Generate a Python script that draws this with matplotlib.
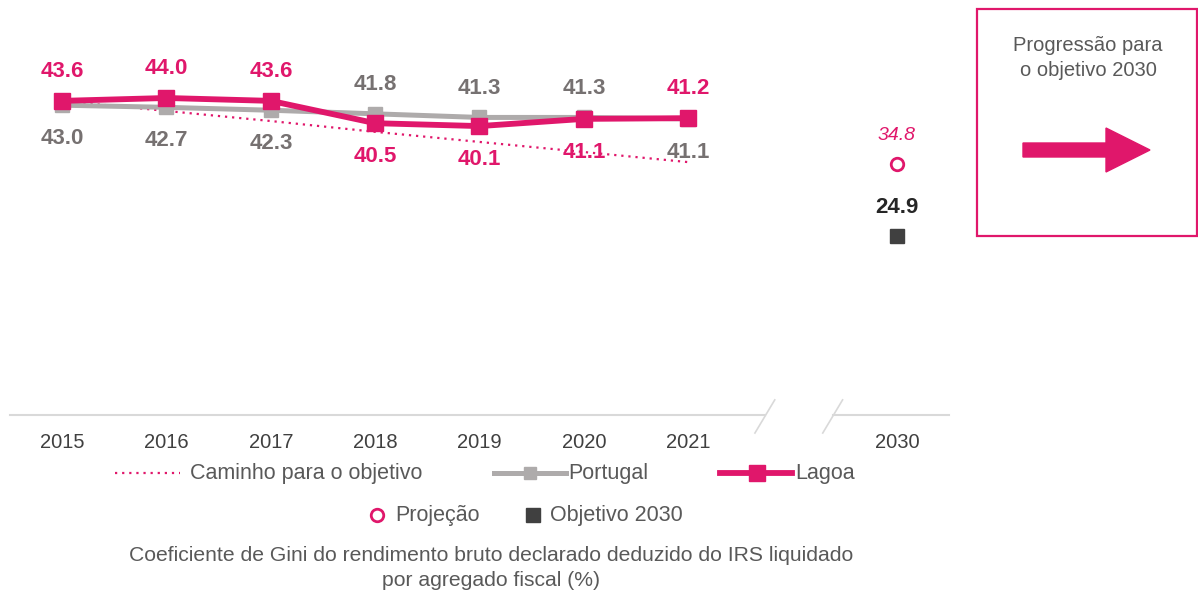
import numpy as np
import matplotlib
matplotlib.use("Agg")
from matplotlib import pyplot as plt
from matplotlib.lines import Line2D
from matplotlib.patches import Rectangle, Polygon

plt.rcParams["font.family"] = ["Liberation Sans", "DejaVu Sans"]

# data
years = ["2015", "2016", "2017", "2018", "2019", "2020", "2021"]
target_year = "2030"
lagoa = [43.6, 44.0, 43.6, 40.5, 40.1, 41.1, 41.2]
portugal = [43.0, 42.7, 42.3, 41.8, 41.3, 41.3, 41.1]
caminho = [43.6, 42.2, 40.8, 39.3, 37.9, 36.5, 35.1]
projecao = 34.8
objetivo = 24.9
lagoa_label_above = [True, True, True, False, False, False, True]

PINK = "#E0176B"
GRAY_LINE = "#AEABAB"
GRAY_TXT = "#767171"
DARK = "#404040"
TXT = "#595959"

W, H = 1198, 593
fig = plt.figure(figsize=(W / 100, H / 100), dpi=100)


def fx(x):
    return x / W


def fy(y):
    return 1 - y / H


ax = fig.add_axes([fx(10), fy(415), (949 - 10) / W, 415 / H])
ax.set_xlim(-0.5, 8.5)
ax.set_ylim(0, 57.6)
for s in ax.spines.values():
    s.set_visible(False)
ax.set_yticks([])

x = np.arange(len(years))
x_target = len(years) + 1

ax.plot(x, caminho, color=PINK, lw=1.6, ls=(0, (1, 2.2)), zorder=1)
ax.plot(x, portugal, color=GRAY_LINE, lw=3.6, marker="s", ms=10, zorder=2)
ax.plot(x, lagoa, color=PINK, lw=4.2, marker="s", ms=11.5, zorder=3)
ax.plot([x_target], [projecao], ls="none", marker="o", ms=9, mfc="white",
        mec=PINK, mew=2, zorder=3)
ax.plot([x_target], [objetivo], ls="none", marker="s", ms=10, color=DARK, zorder=3)

for xi, lv, pv, up in zip(x, lagoa, portugal, lagoa_label_above):
    lo, po = (21, -24) if up else (-24, 21)
    ax.annotate(f"{lv:.1f}", (xi, lv), xytext=(0, lo), textcoords="offset points",
                ha="center", va="center", fontsize=16, fontweight="bold", color=PINK)
    ax.annotate(f"{pv:.1f}", (xi, pv), xytext=(0, po), textcoords="offset points",
                ha="center", va="center", fontsize=16, fontweight="bold", color=GRAY_TXT)

ax.annotate(f"{projecao:.1f}", (x_target, projecao), xytext=(0, 21), textcoords="offset points",
            ha="center", va="center", fontsize=14, fontstyle="italic", color=PINK)
ax.annotate(f"{objetivo:.1f}", (x_target, objetivo), xytext=(0, 20), textcoords="offset points",
            ha="center", va="center", fontsize=16, fontweight="bold", color="#262626")

ax.set_xticks(list(x) + [x_target], years + [target_year])
ax.tick_params(axis="x", length=0, pad=13, labelsize=14.5, labelcolor=DARK)

# broken axis line with two slashes around the gap
brk = len(years) - 0.5
ax.plot([-0.5, brk + 0.24], [0, 0], color="#D9D9D9", lw=1.5, clip_on=False)
ax.plot([brk + 0.89, 8.5], [0, 0], color="#D9D9D9", lw=1.5, clip_on=False)
for b in (brk + 0.14, brk + 0.79):
    ax.plot([b, b + 0.19], [-2.5, 2.1], color="#D9D9D9", lw=1.2, clip_on=False)

# legend, row 1
fig.add_artist(Line2D([fx(115), fx(180)], [fy(473)] * 2, color=PINK, lw=1.6,
                      ls=(0, (1, 2.2)), transform=fig.transFigure))
fig.text(fx(190), fy(474), "Caminho para o objetivo", ha="left", va="center",
         fontsize=15.5, color=TXT)
fig.add_artist(Line2D([fx(494), fx(566)], [fy(473)] * 2, color=GRAY_LINE, lw=3.6,
                      transform=fig.transFigure))
fig.add_artist(Line2D([fx(530)], [fy(473)], color=GRAY_LINE, marker="s", ms=9,
                      transform=fig.transFigure))
fig.text(fx(568), fy(474), "Portugal", ha="left", va="center",
         fontsize=15.5, color=TXT)
fig.add_artist(Line2D([fx(720), fx(792)], [fy(473)] * 2, color=PINK, lw=4.2,
                      transform=fig.transFigure))
fig.add_artist(Line2D([fx(757)], [fy(473)], color=PINK, marker="s", ms=11,
                      transform=fig.transFigure))
fig.text(fx(795), fy(474), "Lagoa", ha="left", va="center",
         fontsize=15.5, color=TXT)

# legend, row 2
fig.add_artist(Line2D([fx(377)], [fy(515)], ls="none", marker="o", ms=9, mfc="white",
                      mec=PINK, mew=2, transform=fig.transFigure))
fig.text(fx(395), fy(516), "Projeção", ha="left", va="center",
         fontsize=15.5, color=TXT)
fig.add_artist(Line2D([fx(533)], [fy(515)], ls="none", marker="s", ms=10, color=DARK,
                      transform=fig.transFigure))
fig.text(fx(550), fy(516), "Objetivo 2030", ha="left", va="center",
         fontsize=15.5, color=TXT)

fig.text(fx(491), fy(568), "Coeficiente de Gini do rendimento bruto declarado deduzido do IRS liquidado\npor agregado fiscal (%)",
         ha="center", va="center", fontsize=15.2, color=TXT, linespacing=1.4)

# side box with arrow
fig.add_artist(Rectangle((fx(977), fy(236)), (1197 - 977) / W, (236 - 9) / H, fill=False,
                         ec=PINK, lw=1.6, transform=fig.transFigure))
fig.text(fx(1088), fy(58), "Progressão para\no objetivo 2030", ha="center", va="center",
         fontsize=14.5, color=TXT, linespacing=1.35)
arrow = [(1023, 143), (1106, 143), (1106, 128), (1150, 150), (1106, 172), (1106, 157), (1023, 157)]
fig.add_artist(Polygon([(fx(a), fy(b)) for a, b in arrow], closed=True, color=PINK,
                       transform=fig.transFigure))

fig.savefig("out.png", dpi=100, facecolor="white")
